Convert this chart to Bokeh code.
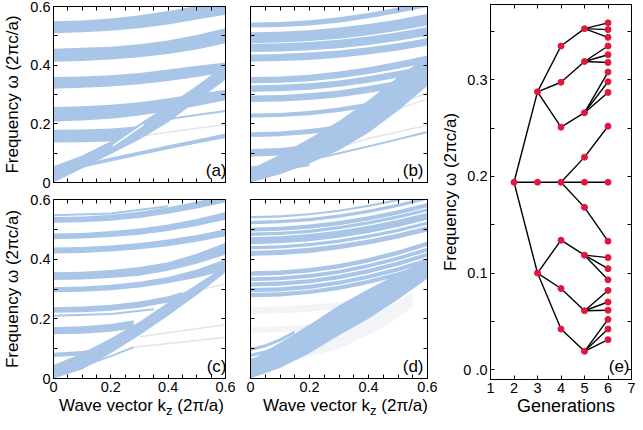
from bokeh.plotting import figure
from bokeh.models import LinearAxis, FixedTicker, Range1d, Label, Div, CustomLabelingPolicy
from bokeh.layouts import row, column
from bokeh.embed import file_html
from bokeh.resources import INLINE

FONT = "Liberation Sans"
BLUE = "#a9c6e8"
FAINT = "#e3e5ec"
FAINT_FILL = "#f3f4f8"
RED = "#e3163f"

# ---------------- axes / ticks ----------------
K = [0.0, 0.1, 0.2, 0.3, 0.4, 0.5, 0.6]
K_TICKS = [0.0, 0.2, 0.4, 0.6]
K_MINOR = [0.05, 0.1, 0.15, 0.25, 0.3, 0.35, 0.45, 0.5, 0.55]
W_TICKS = [0.0, 0.2, 0.4, 0.6]
W_MINOR = [0.1, 0.3, 0.5]
K_TEXT = {0.0: "0", 0.2: "0.2", 0.4: "0.4", 0.6: "0.6"}
W_TEXT = {0.0: "0", 0.2: "0.2", 0.4: "0.4", 0.6: "0.6"}
GEN_TICKS = [1, 2, 3, 4, 5, 6, 7]
GEN_TEXT = {1: "1", 2: "2", 3: "3", 4: "4", 5: "5", 6: "6", 7: "7"}
E_TICKS = [0.0, 0.1, 0.2, 0.3]
E_MINOR = [0.05, 0.15, 0.25, 0.35]
E_TEXT = {0.0: "0 .0", 0.1: "0.1", 0.2: "0.2", 0.3: "0.3"}

# ---------------- panel (a) ----------------
A_bands = [
    (K, [0.509, 0.512, 0.517, 0.526, 0.539, 0.556, 0.572], [0.550, 0.552, 0.559, 0.570, 0.585, 0.602, 0.620]),
    (K, [0.412, 0.414, 0.419, 0.427, 0.438, 0.453, 0.475], [0.456, 0.459, 0.463, 0.471, 0.484, 0.503, 0.526]),
    (K, [0.320, 0.323, 0.327, 0.335, 0.346, 0.360, 0.376], [0.360, 0.361, 0.366, 0.373, 0.385, 0.398, 0.409]),
    (K, [0.208, 0.211, 0.217, 0.228, 0.243, 0.261, 0.280], [0.257, 0.260, 0.265, 0.274, 0.287, 0.302, 0.316]),
    ([0.0, 0.1, 0.2, 0.3], [0.136, 0.137, 0.140, 0.150], [0.180, 0.181, 0.184, 0.192]),
    (K, [0.0, 0.048, 0.097, 0.147, 0.205, 0.278, 0.350], [0.055, 0.092, 0.141, 0.200, 0.263, 0.330, 0.402]),
    ([0.05, 0.1, 0.2, 0.3, 0.4, 0.5, 0.6], [0.028, 0.050, 0.072, 0.093, 0.113, 0.133, 0.152],
     [0.040, 0.062, 0.085, 0.106, 0.127, 0.147, 0.167]),
]
A_faint_bands = []
A_lines = [([0.33, 0.45, 0.6], [0.205, 0.223, 0.244])]
A_faint = [([0.3, 0.45, 0.6], [0.158, 0.178, 0.198])]
A_gaps = [([0.207, 0.314], [0.125, 0.197])]

# ---------------- panel (b) ----------------
B_bands = [
    (K, [0.528, 0.530, 0.535, 0.545, 0.560, 0.578, 0.598], [0.545, 0.547, 0.553, 0.563, 0.578, 0.597, 0.618]),
    (K, [0.475, 0.477, 0.482, 0.490, 0.502, 0.517, 0.535], [0.512, 0.514, 0.519, 0.528, 0.540, 0.556, 0.575]),
    (K, [0.445, 0.447, 0.451, 0.458, 0.469, 0.483, 0.500], [0.473, 0.475, 0.479, 0.487, 0.498, 0.512, 0.530]),
    (K, [0.412, 0.414, 0.418, 0.425, 0.436, 0.450, 0.467], [0.436, 0.438, 0.443, 0.450, 0.461, 0.475, 0.492]),
    (K, [0.338, 0.340, 0.345, 0.355, 0.370, 0.388, 0.408], [0.359, 0.361, 0.367, 0.378, 0.393, 0.412, 0.433]),
    (K, [0.309, 0.311, 0.316, 0.326, 0.340, 0.357, 0.377], [0.331, 0.333, 0.338, 0.348, 0.362, 0.380, 0.400]),
    (K, [0.274, 0.276, 0.281, 0.291, 0.305, 0.322, 0.342], [0.296, 0.298, 0.304, 0.314, 0.329, 0.347, 0.367]),
    ([0.0, 0.1, 0.2, 0.3, 0.4, 0.5], [0.221, 0.223, 0.229, 0.240, 0.256, 0.276], [0.235, 0.237, 0.244, 0.256, 0.272, 0.292]),
    ([0.0, 0.1, 0.2, 0.3, 0.4], [0.155, 0.158, 0.165, 0.177, 0.194], [0.171, 0.174, 0.182, 0.195, 0.212]),
    ([0.0, 0.1, 0.2, 0.3], [0.088, 0.092, 0.102, 0.118], [0.114, 0.118, 0.129, 0.145]),
    ([0.0, 0.1, 0.2], [0.033, 0.040, 0.055], [0.055, 0.063, 0.080]),
    (K, [0.0, 0.028, 0.065, 0.110, 0.170, 0.245, 0.330], [0.045, 0.095, 0.150, 0.210, 0.280, 0.360, 0.430]),
]
B_faint_bands = []
B_lines = [([0.12, 0.3, 0.45, 0.6], [0.058, 0.100, 0.135, 0.172])]
B_faint = [([0.2, 0.4, 0.6], [0.090, 0.150, 0.195]),
           ([0.3, 0.45, 0.6], [0.190, 0.250, 0.305]),
           ([0.35, 0.5, 0.6], [0.200, 0.250, 0.285])]
B_gaps = []

# ---------------- panel (c) ----------------
C_bands = [
    (K, [0.522, 0.524, 0.529, 0.538, 0.552, 0.570, 0.590], [0.541, 0.543, 0.549, 0.559, 0.574, 0.593, 0.614]),
    (K, [0.467, 0.469, 0.474, 0.482, 0.494, 0.511, 0.532], [0.486, 0.488, 0.494, 0.503, 0.516, 0.535, 0.558]),
    (K, [0.419, 0.421, 0.426, 0.433, 0.443, 0.458, 0.477], [0.439, 0.441, 0.446, 0.454, 0.466, 0.481, 0.500]),
    (K, [0.330, 0.332, 0.337, 0.344, 0.361, 0.385, 0.415], [0.356, 0.358, 0.364, 0.374, 0.390, 0.418, 0.455]),
    (K, [0.289, 0.291, 0.296, 0.305, 0.319, 0.338, 0.362], [0.306, 0.308, 0.314, 0.324, 0.340, 0.365, 0.400]),
    ([0.0, 0.1, 0.2, 0.3, 0.4, 0.45], [0.220, 0.222, 0.227, 0.237, 0.255, 0.268], [0.239, 0.241, 0.247, 0.258, 0.276, 0.290]),
    ([0.0, 0.1, 0.2, 0.28], [0.148, 0.150, 0.157, 0.168], [0.172, 0.175, 0.183, 0.195]),
    ([0.0, 0.1, 0.15], [0.072, 0.077, 0.083], [0.086, 0.092, 0.098]),
    (K, [0.0, 0.030, 0.085, 0.145, 0.210, 0.280, 0.355], [0.045, 0.085, 0.135, 0.190, 0.255, 0.315, 0.378]),
]
C_faint_bands = []
C_lines = [([0.0, 0.1, 0.2, 0.28], [0.004, 0.040, 0.075, 0.105]),
           ([0.0, 0.2, 0.35], [0.210, 0.216, 0.232]),
           ([0.0, 0.2, 0.4], [0.547, 0.553, 0.577])]
C_faint = [([0.28, 0.45, 0.6], [0.105, 0.122, 0.138]),
           ([0.3, 0.45, 0.6], [0.140, 0.160, 0.180]),
           ([0.45, 0.6], [0.285, 0.317])]
C_gaps = []

# ---------------- panel (d) ----------------
D_TOP_LO = [0.411, 0.433, 0.450, 0.478, 0.492, 0.517, 0.537]
D_TOP_HI = [0.428, 0.444, 0.474, 0.489, 0.506, 0.528, 0.544]
D_TOP_RISE = [0.0, 0.003, 0.010, 0.022, 0.038, 0.058, 0.082]
D_MID_LO = [0.272, 0.289, 0.308, 0.326, 0.344]
D_MID_HI = [0.286, 0.303, 0.322, 0.339, 0.359]
D_MID_RISE = [0.0, 0.003, 0.011, 0.025, 0.045, 0.070, 0.100]
D_LOW_K = [0.0, 0.05, 0.1, 0.15]
D_LOW_LO = [0.028, 0.056, 0.072, 0.092]
D_LOW_HI = [0.050, 0.067, 0.083, 0.103]
D_LOW_RISE = [0.0, 0.012, 0.032, 0.058]
D_DIAG_LO = [0.0, 0.035, 0.085, 0.145, 0.200, 0.265, 0.335]
D_DIAG_HI = [0.060, 0.120, 0.180, 0.245, 0.300, 0.350, 0.400]
D_faint_bands = [
    ([0.0, 0.1, 0.2, 0.3, 0.36], [0.217, 0.219, 0.224, 0.232, 0.240], [0.239, 0.241, 0.247, 0.256, 0.262]),
    ([0.0, 0.1, 0.2, 0.24], [0.152, 0.155, 0.162, 0.168], [0.172, 0.175, 0.183, 0.190]),
    ([0.15, 0.3, 0.45, 0.55], [0.060, 0.100, 0.170, 0.240], [0.100, 0.150, 0.230, 0.290]),
]

D_bands = []
for lo0, hi0 in zip(D_TOP_LO, D_TOP_HI):
    D_bands.append((K, [lo0 + r for r in D_TOP_RISE], [hi0 + r for r in D_TOP_RISE]))
for lo0, hi0 in zip(D_MID_LO, D_MID_HI):
    D_bands.append((K, [lo0 + r for r in D_MID_RISE], [hi0 + r for r in D_MID_RISE]))
for lo0, hi0 in zip(D_LOW_LO, D_LOW_HI):
    D_bands.append((D_LOW_K, [lo0 + r for r in D_LOW_RISE], [hi0 + r for r in D_LOW_RISE]))
D_bands.append((K, D_DIAG_LO, D_DIAG_HI))

# ---------------- panel (e) ----------------
GENS = [2, 3, 4, 5, 6]
G2 = [0.194]
G3 = [0.2876, 0.194, 0.100]
G4 = [0.335, 0.2975, 0.251, 0.194, 0.134, 0.084, 0.042]
G5 = [0.353, 0.319, 0.266, 0.220, 0.194, 0.168, 0.1185, 0.061, 0.019]
G6 = [0.359, 0.352, 0.344, 0.335, 0.326, 0.318, 0.308, 0.298, 0.287, 0.252, 0.194,
      0.133, 0.116, 0.1045, 0.093, 0.082, 0.070, 0.0615, 0.052, 0.042, 0.031]
P3 = [0, 0, 0]
P4 = [0, 0, 0, 1, 2, 2, 2]
P5 = [0, 1, 2, 3, 3, 3, 4, 5, 6]
P6 = [0, 0, 0, 1, 1, 1, 2, 2, 2, 3, 4, 5, 6, 6, 6, 7, 7, 7, 8, 8, 8]

YTITLE = "Frequency ω (2πc/a)"


def style_axis(ax, labels, overrides=None):
    ax.axis_line_color = "black"
    ax.axis_line_width = 1
    ax.major_tick_in = 4
    ax.major_tick_out = 0
    ax.minor_tick_in = 4
    ax.minor_tick_out = 0
    ax.major_tick_line_color = "black"
    ax.minor_tick_line_color = "black"
    if labels:
        ax.major_label_text_font = FONT
        ax.major_label_text_font_size = "14.5px"
        ax.major_label_text_color = "black"
        ax.major_label_standoff = 3
        if overrides:
            ax.major_label_overrides = overrides
    else:
        ax.major_label_text_font_size = "1px"
        ax.major_label_standoff = 0
        ax.major_label_policy = CustomLabelingPolicy(code="return []")


def add_axes(p, xt, xm, yt, ym, xlab, ylab, xover, yover, ytitle=None, title_standoff=5):
    b = LinearAxis(ticker=FixedTicker(ticks=xt, minor_ticks=xm))
    style_axis(b, xlab, xover)
    p.add_layout(b, "below")
    l = LinearAxis(ticker=FixedTicker(ticks=yt, minor_ticks=ym))
    style_axis(l, ylab, yover)
    if ytitle:
        l.axis_label = ytitle
        l.axis_label_text_font = FONT
        l.axis_label_text_font_size = "17px"
        l.axis_label_text_font_style = "normal"
        l.axis_label_text_color = "black"
        l.axis_label_standoff = title_standoff
    p.add_layout(l, "left")
    t = LinearAxis(ticker=FixedTicker(ticks=xt, minor_ticks=xm))
    style_axis(t, False)
    p.add_layout(t, "above")
    r = LinearAxis(ticker=FixedTicker(ticks=yt, minor_ticks=ym))
    style_axis(r, False)
    p.add_layout(r, "right")


def band_panel(bands, faint_bands, lines, faint, gaps, tag, left_lab, bottom_lab,
               w, h, bl, br, bt, bb):
    p = figure(width=w, height=h, x_range=Range1d(0, 0.6), y_range=Range1d(0, 0.6),
               x_axis_type=None, y_axis_type=None, output_backend="svg",
               toolbar_location=None, min_border_left=bl, min_border_right=br,
               min_border_top=bt, min_border_bottom=bb, outline_line_color="black",
               background_fill_color="white", border_fill_color="white")
    for ks, lo, hi in faint_bands:
        p.varea(x=ks, y1=lo, y2=hi, fill_color=FAINT_FILL)
    for ks, wv in faint:
        p.line(ks, wv, line_color=FAINT, line_width=1.5)
    for ks, lo, hi in bands:
        p.varea(x=ks, y1=lo, y2=hi, fill_color=BLUE)
    for ks, wv in lines:
        p.line(ks, wv, line_color=BLUE, line_width=2)
    for ks, wv in gaps:
        p.line(ks, wv, line_color="white", line_width=1.5)
    add_axes(p, K_TICKS, K_MINOR, W_TICKS, W_MINOR, bottom_lab, left_lab,
             K_TEXT, W_TEXT, YTITLE if left_lab else None)
    p.add_layout(Label(x=w - bl - br - 4, y=3, x_units="screen", y_units="screen",
                       text=tag, text_align="right", text_baseline="bottom",
                       text_font=FONT, text_font_size="17px", text_color="black"))
    return p


def xlabel_div(width, pad):
    html = ('<div style="margin-left:%dpx;width:%dpx;white-space:nowrap;'
            'font-family:\'Liberation Sans\',Arial,sans-serif;font-size:17px;line-height:16px;'
            'color:black;text-align:left;">Wave vector k'
            '<span style="font-size:13px;position:relative;top:4px;">z</span> (2π/a)</div>') % (pad, width - pad)
    return Div(text=html, width=width, height=16, margin=0)


pa = band_panel(A_bands, A_faint_bands, A_lines, A_faint, A_gaps, "(a)", True, False,
                237, 190, 48, 12, 6, 8)
pb = band_panel(B_bands, B_faint_bands, B_lines, B_faint, B_gaps, "(b)", False, False,
                200, 190, 13, 10, 6, 8)
pc = band_panel(C_bands, C_faint_bands, C_lines, C_faint, C_gaps, "(c)", True, True,
                237, 208, 48, 12, 9, 20)
pd = band_panel(D_bands, D_faint_bands, [], [], [], "(d)", False, True,
                200, 208, 13, 10, 9, 20)

# ---------------- panel (e) figure ----------------
pe = figure(width=198, height=399, x_range=Range1d(1, 7), y_range=Range1d(-0.0102, 0.378),
            x_axis_type=None, y_axis_type=None, output_backend="svg", toolbar_location=None,
            min_border_left=53, min_border_right=1, min_border_top=0, min_border_bottom=20,
            outline_line_color="black", background_fill_color="white", border_fill_color="white")

levels = [G2, G3, G4, G5, G6]
parents = [None, P3, P4, P5, P6]
x0, y0, x1, y1 = [], [], [], []
for i in range(1, len(levels)):
    for j, par in enumerate(parents[i]):
        x0.append(GENS[i - 1]); y0.append(levels[i - 1][par])
        x1.append(GENS[i]); y1.append(levels[i][j])
pe.segment(x0, y0, x1, y1, line_color="black", line_width=1.4)
xs, ys = [], []
for g, lv in zip(GENS, levels):
    xs += [g] * len(lv)
    ys += lv
pe.scatter(xs, ys, size=6, fill_color=RED, line_color=RED)

add_axes(pe, GEN_TICKS, [], E_TICKS, E_MINOR, True, True, GEN_TEXT, E_TEXT, YTITLE,
         title_standoff=0)
pe.add_layout(Label(x=139, y=4, x_units="screen", y_units="screen", text="(e)",
                    text_align="right", text_baseline="bottom", text_font=FONT,
                    text_font_size="17px", text_color="black"))

gen_div = Div(text=('<div style="margin-left:57px;width:144px;text-align:center;'
                    'white-space:nowrap;font-family:\'Liberation Sans\',Arial,sans-serif;'
                    'font-size:18px;line-height:15px;color:black;">Generations</div>'),
              width=198, height=15, margin=0)

left = column(row(pa, pb), row(pc, pd), row(xlabel_div(237, 59), xlabel_div(200, 26)))
right = column(pe, gen_div)
layout = row(left, right)

open("out.html", "w").write(file_html(layout, INLINE))
